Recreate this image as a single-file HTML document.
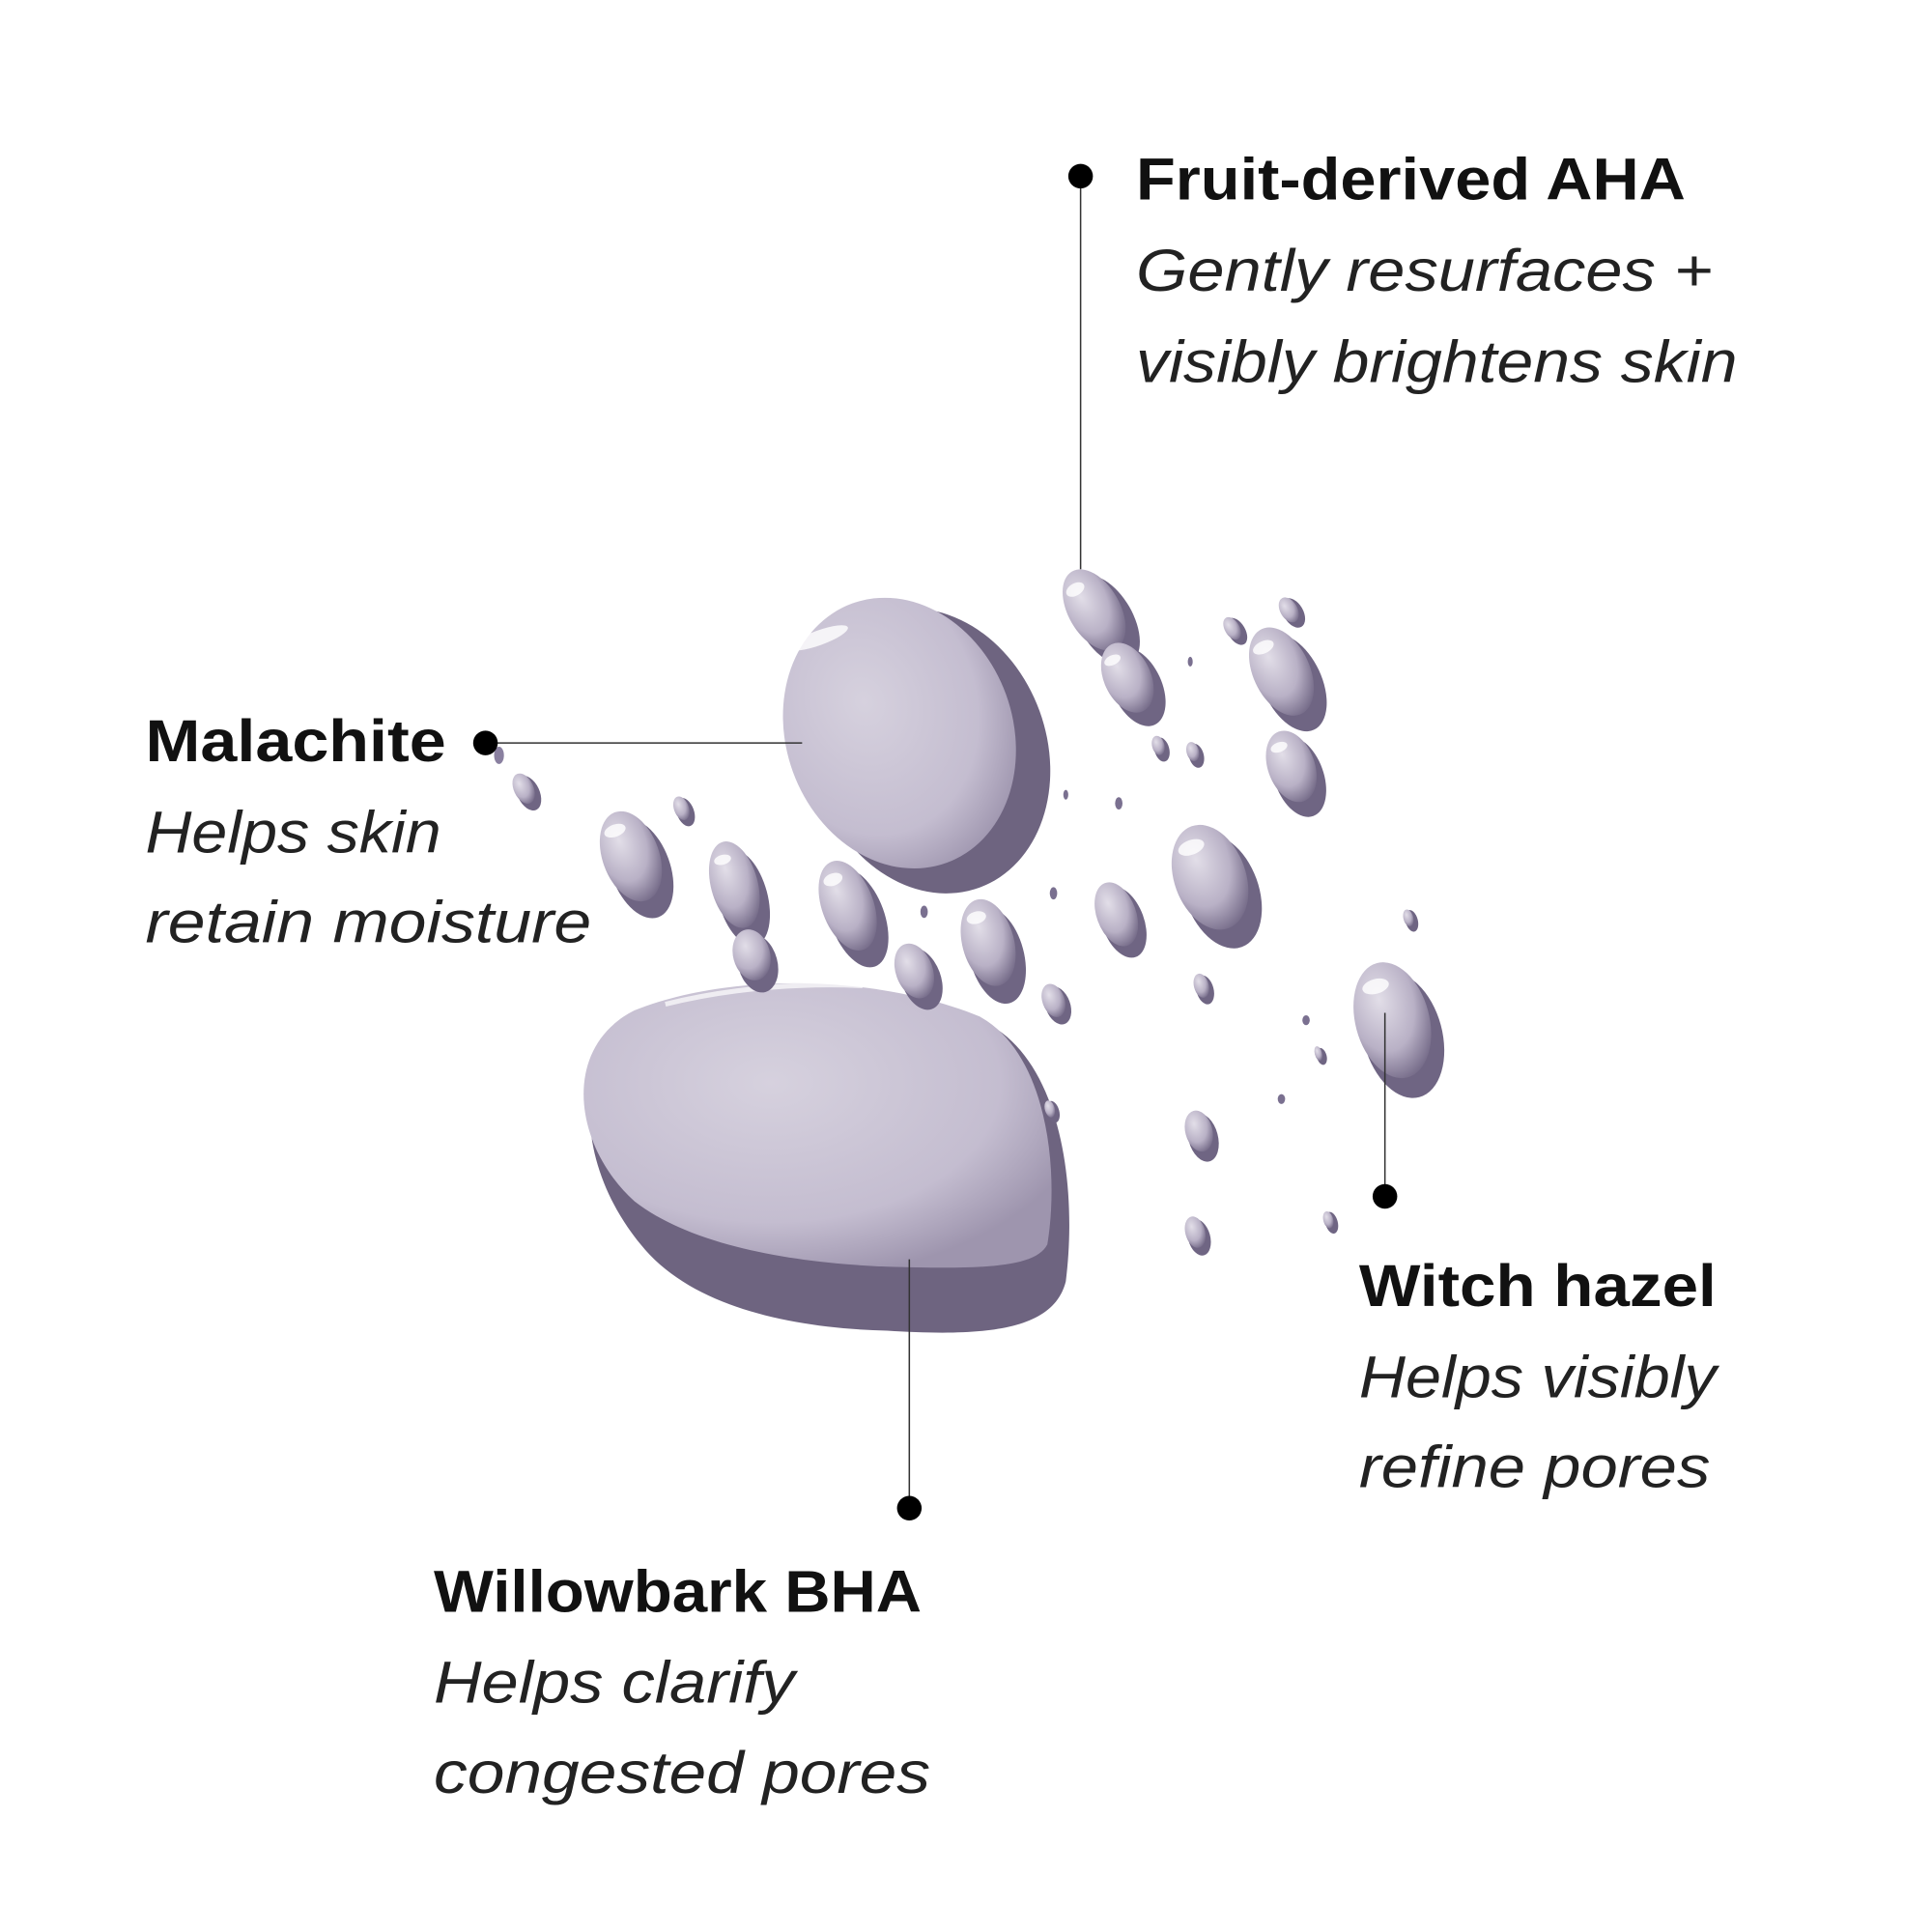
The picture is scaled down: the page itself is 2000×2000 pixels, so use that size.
<!DOCTYPE html>
<html><head><meta charset="utf-8"><style>
html,body{margin:0;padding:0;background:#fff;width:2000px;height:2000px;overflow:hidden}
svg{display:block}
.b{font-family:"Liberation Sans",sans-serif;font-weight:bold;font-size:48px;fill:#111}
.i{font-family:"Liberation Sans",sans-serif;font-style:italic;font-size:48px;fill:#222}
</style></head><body>
<svg width="2000" height="2000" viewBox="0 0 1568 1568" xmlns="http://www.w3.org/2000/svg">
<defs>
<radialGradient id="body" cx="40%" cy="35%" r="70%">
<stop offset="0" stop-color="#d6d1de"/><stop offset="0.7" stop-color="#c4bdd0"/><stop offset="1" stop-color="#9e95ae"/>
</radialGradient>
<radialGradient id="drop" cx="40%" cy="30%" r="75%">
<stop offset="0" stop-color="#e2dee8"/><stop offset="0.6" stop-color="#b9b1c6"/><stop offset="1" stop-color="#6f6583"/>
</radialGradient>
</defs>
<!-- big top blob -->
<g transform="translate(730,595) rotate(-20)">
<ellipse cx="18" cy="22" rx="95" ry="118" fill="#6e6480"/>
<ellipse cx="0" cy="0" rx="92" ry="112" fill="url(#body)"/>
<ellipse cx="-35" cy="-95" rx="25" ry="6" fill="#fff" opacity="0.8"/>
</g>
<!-- big bottom blob -->
<g>
<path d="M520,825 C600,790 720,795 800,830 C860,860 875,960 865,1040 C855,1080 800,1085 720,1080 C640,1078 560,1060 520,1010 C470,950 460,860 520,825 Z" fill="#6e6480"/>
<path d="M515,820 C595,788 715,792 795,825 C850,855 860,950 850,1010 C840,1030 790,1030 720,1028 C640,1025 560,1010 515,975 C465,930 455,850 515,820 Z" fill="url(#body)"/>
<path d="M540,815 C600,800 660,798 700,800" stroke="#fff" stroke-width="4" fill="none" opacity="0.7"/>
</g>
<!-- small droplets -->
<g id="drops">
<g transform="translate(888,495) rotate(-30)"><ellipse cx="4" cy="12" rx="22" ry="40" fill="#6f6583"/><ellipse rx="21" ry="36" fill="url(#drop)"/><ellipse cx="-5" cy="-22" rx="8" ry="5" fill="#fff" opacity="0.8"/></g>
<g transform="translate(915,550) rotate(-25)"><ellipse cx="4" cy="10" rx="20" ry="34" fill="#6f6583"/><ellipse rx="19" ry="30" fill="url(#drop)"/><ellipse cx="-5" cy="-18" rx="7" ry="4" fill="#fff" opacity="0.8"/></g>
<g transform="translate(1040,545) rotate(-25)"><ellipse cx="4" cy="12" rx="24" ry="42" fill="#6f6583"/><ellipse rx="23" ry="38" fill="url(#drop)"/><ellipse cx="-5" cy="-24" rx="9" ry="5" fill="#fff" opacity="0.8"/></g>
<g transform="translate(1048,622) rotate(-20)"><ellipse cx="3" cy="10" rx="20" ry="34" fill="#6f6583"/><ellipse rx="19" ry="30" fill="url(#drop)"/><ellipse cx="-4" cy="-18" rx="7" ry="4" fill="#fff" opacity="0.8"/></g>
<g transform="translate(1000,510) rotate(-30)"><ellipse cx="2" cy="4" rx="7" ry="12" fill="#6f6583"/><ellipse rx="6" ry="10" fill="url(#drop)"/></g>
<g transform="translate(1046,495) rotate(-30)"><ellipse cx="2" cy="4" rx="8" ry="13" fill="#6f6583"/><ellipse rx="7" ry="11" fill="url(#drop)"/></g>
<g transform="translate(512,695) rotate(-20)"><ellipse cx="4" cy="12" rx="24" ry="42" fill="#6f6583"/><ellipse rx="23" ry="38" fill="url(#drop)"/><ellipse cx="-5" cy="-24" rx="9" ry="5" fill="#fff" opacity="0.8"/></g>
<g transform="translate(596,718) rotate(-15)"><ellipse cx="4" cy="12" rx="20" ry="40" fill="#6f6583"/><ellipse rx="19" ry="36" fill="url(#drop)"/><ellipse cx="-4" cy="-22" rx="7" ry="4" fill="#fff" opacity="0.8"/></g>
<g transform="translate(610,775) rotate(-15)"><ellipse cx="3" cy="8" rx="16" ry="24" fill="#6f6583"/><ellipse rx="15" ry="21" fill="url(#drop)"/></g>
<g transform="translate(688,735) rotate(-20)"><ellipse cx="4" cy="12" rx="22" ry="42" fill="#6f6583"/><ellipse rx="21" ry="38" fill="url(#drop)"/><ellipse cx="-4" cy="-24" rx="8" ry="5" fill="#fff" opacity="0.8"/></g>
<g transform="translate(742,788) rotate(-20)"><ellipse cx="3" cy="8" rx="16" ry="26" fill="#6f6583"/><ellipse rx="15" ry="23" fill="url(#drop)"/></g>
<g transform="translate(802,765) rotate(-15)"><ellipse cx="4" cy="12" rx="22" ry="40" fill="#6f6583"/><ellipse rx="21" ry="36" fill="url(#drop)"/><ellipse cx="-4" cy="-22" rx="8" ry="5" fill="#fff" opacity="0.8"/></g>
<g transform="translate(906,742) rotate(-20)"><ellipse cx="3" cy="8" rx="17" ry="30" fill="#6f6583"/><ellipse rx="16" ry="27" fill="url(#drop)"/></g>
<g transform="translate(982,712) rotate(-20)"><ellipse cx="5" cy="14" rx="30" ry="48" fill="#6f6583"/><ellipse rx="29" ry="44" fill="url(#drop)"/><ellipse cx="-6" cy="-28" rx="11" ry="6" fill="#fff" opacity="0.8"/></g>
<g transform="translate(1130,828) rotate(-15)"><ellipse cx="5" cy="14" rx="32" ry="52" fill="#6f6583"/><ellipse rx="30" ry="48" fill="url(#drop)"/><ellipse cx="-6" cy="-30" rx="11" ry="6" fill="#fff" opacity="0.8"/></g>
<g transform="translate(425,640) rotate(-25)"><ellipse cx="2" cy="5" rx="9" ry="15" fill="#6f6583"/><ellipse rx="8" ry="13" fill="url(#drop)"/></g>
<g transform="translate(553,656) rotate(-20)"><ellipse cx="2" cy="4" rx="7" ry="12" fill="#6f6583"/><ellipse rx="6" ry="10" fill="url(#drop)"/></g>
<g transform="translate(855,812) rotate(-20)"><ellipse cx="2" cy="5" rx="10" ry="16" fill="#6f6583"/><ellipse rx="9" ry="14" fill="url(#drop)"/></g>
<g transform="translate(973,918) rotate(-15)"><ellipse cx="2" cy="6" rx="12" ry="20" fill="#6f6583"/><ellipse rx="11" ry="17" fill="url(#drop)"/></g>
<g transform="translate(970,1000) rotate(-15)"><ellipse cx="2" cy="5" rx="9" ry="15" fill="#6f6583"/><ellipse rx="8" ry="13" fill="url(#drop)"/></g>
<g transform="translate(975,800) rotate(-15)"><ellipse cx="2" cy="4" rx="7" ry="12" fill="#6f6583"/><ellipse rx="6" ry="10" fill="url(#drop)"/></g>
<g transform="translate(940,605) rotate(-15)"><ellipse cx="2" cy="4" rx="6" ry="10" fill="#6f6583"/><ellipse rx="5" ry="8" fill="url(#drop)"/></g>
<g transform="translate(968,610) rotate(-15)"><ellipse cx="2" cy="4" rx="6" ry="10" fill="#6f6583"/><ellipse rx="5" ry="8" fill="url(#drop)"/></g>
<g transform="translate(1143,745) rotate(-15)"><ellipse cx="2" cy="3" rx="5" ry="9" fill="#6f6583"/><ellipse rx="4" ry="7" fill="url(#drop)"/></g>
<g transform="translate(1078,990) rotate(-15)"><ellipse cx="2" cy="3" rx="5" ry="9" fill="#6f6583"/><ellipse rx="4" ry="7" fill="url(#drop)"/></g>
<g transform="translate(852,900) rotate(-15)"><ellipse cx="2" cy="3" rx="5" ry="9" fill="#6f6583"/><ellipse rx="4" ry="7" fill="url(#drop)"/></g>
<g transform="translate(1070,855) rotate(-15)"><ellipse cx="2" cy="3" rx="4" ry="7" fill="#6f6583"/><ellipse rx="3" ry="6" fill="url(#drop)"/></g>
<g transform="translate(750,740)"><ellipse rx="3" ry="5" fill="#7a7090"/></g>
<g transform="translate(855,725)"><ellipse rx="3" ry="5" fill="#7a7090"/></g>
<g transform="translate(908,652)"><ellipse rx="3" ry="5" fill="#7a7090"/></g>
<g transform="translate(865,645)"><ellipse rx="2" ry="4" fill="#7a7090"/></g>
<g transform="translate(1060,828)"><ellipse rx="3" ry="4" fill="#7a7090"/></g>
<g transform="translate(1040,892)"><ellipse rx="3" ry="4" fill="#7a7090"/></g>
<g transform="translate(966,537)"><ellipse rx="2" ry="4" fill="#7a7090"/></g>
<g transform="translate(405,613)"><ellipse rx="4" ry="7" fill="#8a80a0"/></g>
</g>
<!-- connectors -->
<g stroke="#333" stroke-width="1.2">
<line x1="877" y1="143" x2="877" y2="462"/>
<line x1="394" y1="603" x2="651" y2="603"/>
<line x1="1124" y1="822" x2="1124" y2="971"/>
<line x1="738" y1="1022" x2="738" y2="1224"/>
</g>
<g fill="#000">
<circle cx="877" cy="143" r="10"/>
<circle cx="394" cy="603" r="10"/>
<circle cx="1124" cy="971" r="10"/>
<circle cx="738" cy="1224" r="10"/>
</g>
<!-- labels -->
<text class="b" x="922" y="162" textLength="446" lengthAdjust="spacingAndGlyphs">Fruit-derived AHA</text>
<text class="i" x="922" y="236" textLength="468" lengthAdjust="spacingAndGlyphs">Gently resurfaces +</text>
<text class="i" x="922" y="310" textLength="488" lengthAdjust="spacingAndGlyphs">visibly brightens skin</text>
<text class="b" x="118" y="618" textLength="244" lengthAdjust="spacingAndGlyphs">Malachite</text>
<text class="i" x="118" y="692" textLength="240" lengthAdjust="spacingAndGlyphs">Helps skin</text>
<text class="i" x="118" y="765" textLength="362" lengthAdjust="spacingAndGlyphs">retain moisture</text>
<text class="b" x="1103" y="1060" textLength="290" lengthAdjust="spacingAndGlyphs">Witch hazel</text>
<text class="i" x="1103" y="1134" textLength="290" lengthAdjust="spacingAndGlyphs">Helps visibly</text>
<text class="i" x="1103" y="1207" textLength="285" lengthAdjust="spacingAndGlyphs">refine pores</text>
<text class="b" x="352" y="1308" textLength="396" lengthAdjust="spacingAndGlyphs">Willowbark BHA</text>
<text class="i" x="352" y="1382" textLength="293" lengthAdjust="spacingAndGlyphs">Helps clarify</text>
<text class="i" x="352" y="1455" textLength="403" lengthAdjust="spacingAndGlyphs">congested pores</text>
</svg>
</body></html>
